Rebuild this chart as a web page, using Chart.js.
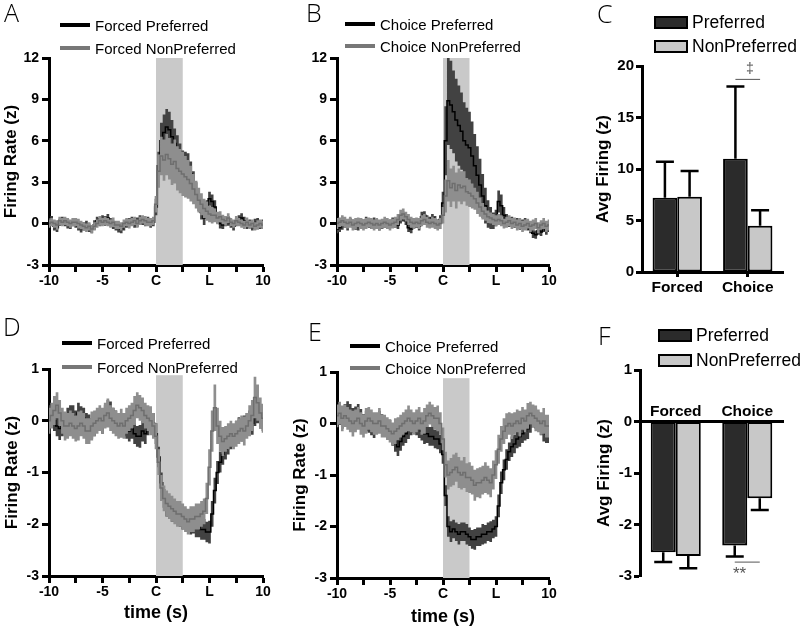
<!DOCTYPE html>
<html>
<head>
<meta charset="utf-8">
<script src="https://cdn.jsdelivr.net/npm/chart.js@4.4.0/dist/chart.umd.min.js"></script>
<style>
    body { margin: 0; background: #fff; }
    #figure { position: relative; width: 800px; height: 628px; overflow: hidden; font-family: 'Liberation Sans', Arial, sans-serif; color: #000; }
    canvas { position: absolute; }
    .panel-letter { position: absolute; font-family: 'Open Sans', sans-serif; font-weight: 300; font-size: 25px; line-height: 25px; }
    .legend-item { position: absolute; height: 20px; display: flex; align-items: center; font-size: 15px; white-space: nowrap; }
    .legend-line { width: 30px; height: 4px; margin-right: 5px; }
    .legend-box { box-sizing: border-box; width: 34px; height: 13px; border: 2px solid #000; margin-right: 4px; }
    .bar-legend { font-size: 17.5px; }
    .sig { position: absolute; color: #555; line-height: 1; }
</style>
</head>
<body>
<div id="figure">
    <canvas id="chartA" width="280" height="310" style="left:0px;top:0px"></canvas>
    <canvas id="chartB" width="290" height="310" style="left:280px;top:0px"></canvas>
    <canvas id="chartC" width="230" height="310" style="left:570px;top:0px"></canvas>
    <canvas id="chartD" width="280" height="318" style="left:0px;top:310px"></canvas>
    <canvas id="chartE" width="290" height="318" style="left:280px;top:310px"></canvas>
    <canvas id="chartF" width="230" height="318" style="left:570px;top:310px"></canvas>

    <div class="panel-letter" style="left:4px;top:0px">A</div>
    <div class="panel-letter" style="left:306px;top:0px">B</div>
    <div class="panel-letter" style="left:597px;top:1px">C</div>
    <div class="panel-letter" style="left:3px;top:314px">D</div>
    <div class="panel-letter" style="left:308px;top:319px">E</div>
    <div class="panel-letter" style="left:598px;top:323px">F</div>

    <div class="legend-item" style="left:60px;top:15px"><span class="legend-line" style="background:#000"></span>Forced Preferred</div>
    <div class="legend-item" style="left:60px;top:38px"><span class="legend-line" style="background:#777"></span>Forced NonPreferred</div>
    <div class="legend-item" style="left:345px;top:14px"><span class="legend-line" style="background:#000"></span>Choice Preferred</div>
    <div class="legend-item" style="left:345px;top:36px"><span class="legend-line" style="background:#777"></span>Choice NonPreferred</div>
    <div class="legend-item" style="left:62px;top:333px"><span class="legend-line" style="background:#000"></span>Forced Preferred</div>
    <div class="legend-item" style="left:62px;top:357px"><span class="legend-line" style="background:#777"></span>Forced NonPreferred</div>
    <div class="legend-item" style="left:350px;top:336px"><span class="legend-line" style="background:#000"></span>Choice Preferred</div>
    <div class="legend-item" style="left:350px;top:358px"><span class="legend-line" style="background:#777"></span>Choice NonPreferred</div>

    <div class="legend-item bar-legend" style="left:654px;top:12px"><span class="legend-box" style="background:#2b2b2b"></span>Preferred</div>
    <div class="legend-item bar-legend" style="left:654px;top:36px"><span class="legend-box" style="background:#c8c8c8"></span>NonPreferred</div>
    <div class="legend-item bar-legend" style="left:658px;top:325px"><span class="legend-box" style="background:#2b2b2b"></span>Preferred</div>
    <div class="legend-item bar-legend" style="left:658px;top:350px"><span class="legend-box" style="background:#c8c8c8"></span>NonPreferred</div>

    <div class="sig" style="left:746px;top:61px;font-size:14px">&Dagger;</div>
    <div class="sig" style="left:733px;top:565px;font-size:17px">**</div>
</div>

<script>
// Time axis of the traces: seconds around the choice (C), lever at L
const timeStart = -10;
const timeStep = 0.25;
const xTickValues = [-10, -5, 0, 5, 10];
const xTickNames = ['-10', '-5', 'C', 'L', '10'];
const cueWindow = [0, 2.5];

// Panel A - Forced trials, excited cells (mean and SEM, z)
const aPrefMean = [
    0.1, 0.2, -0.2, -0.3, 0.1, 0.2, 0.1, 0.0, -0.1, 0.1,
    0.0, -0.2, -0.3, -0.2, -0.1, -0.3, -0.4, -0.1, 0.2, 0.1,
    0.3, 0.2, 0.4, 0.1, -0.1, -0.2, -0.3, -0.4, -0.2, 0.0,
    0.1, 0.2, 0.0, 0.1, 0.3, 0.2, 0.1, 0.2, 0.0, 0.1,
    1.2, 4.2, 6.0, 6.6, 7.0, 6.8, 6.3, 5.8, 5.3, 4.8,
    4.3, 4.2, 4.1, 3.6, 3.0, 2.3, 1.5, 0.8, 0.4, 1.2,
    1.8, 1.6, 1.2, 0.4, 0.0, -0.1, 0.1, 0.2, 0.0, -0.2,
    0.1, 0.3, 0.4, 0.2, -0.1, 0.0, -0.2, 0.0, 0.1, -0.1,
    0.0];
const aPrefSem = [
    0.3, 0.35, 0.3, 0.3, 0.25, 0.3, 0.3, 0.35, 0.3, 0.3,
    0.3, 0.3, 0.35, 0.3, 0.3, 0.3, 0.3, 0.35, 0.3, 0.3,
    0.3, 0.35, 0.3, 0.3, 0.3, 0.3, 0.35, 0.3, 0.3, 0.3,
    0.3, 0.3, 0.3, 0.35, 0.3, 0.3, 0.3, 0.3, 0.3, 0.3,
    0.6, 1.0, 1.3, 1.3, 1.3, 1.3, 1.2, 1.1, 1.1, 1.0,
    1.0, 1.0, 1.0, 0.9, 0.8, 0.7, 0.6, 0.5, 0.5, 0.5,
    0.5, 0.5, 0.5, 0.4, 0.35, 0.3, 0.3, 0.35, 0.3, 0.3,
    0.3, 0.3, 0.35, 0.3, 0.3, 0.3, 0.3, 0.35, 0.3, 0.3,
    0.3];
const aNonMean = [
    0.0, 0.1, 0.0, -0.1, 0.2, 0.1, 0.2, 0.1, 0.0, 0.1,
    0.1, 0.0, -0.1, -0.2, -0.3, -0.2, -0.4, -0.2, 0.0, 0.2,
    0.1, 0.2, 0.1, 0.0, 0.1, -0.1, -0.1, -0.2, 0.0, 0.1,
    0.0, 0.1, 0.2, 0.0, 0.2, 0.3, 0.2, 0.1, 0.1, 0.2,
    1.4, 3.8, 4.9, 4.6, 5.0, 4.7, 4.3, 4.5, 4.0, 3.8,
    3.6, 3.4, 3.2, 2.9, 2.5, 2.1, 1.7, 1.4, 1.1, 0.9,
    0.7, 0.6, 0.6, 0.4, 0.5, 0.3, 0.2, 0.4, 0.1, 0.0,
    0.2, 0.1, 0.0, -0.1, 0.1, -0.1, 0.0, -0.2, -0.1, 0.0,
    -0.1];
const aNonSem = [
    0.3, 0.3, 0.3, 0.35, 0.3, 0.3, 0.3, 0.3, 0.3, 0.3,
    0.3, 0.35, 0.3, 0.3, 0.3, 0.3, 0.3, 0.3, 0.3, 0.35,
    0.3, 0.3, 0.3, 0.3, 0.35, 0.3, 0.3, 0.3, 0.3, 0.3,
    0.35, 0.3, 0.3, 0.3, 0.3, 0.3, 0.35, 0.3, 0.3, 0.3,
    0.6, 1.2, 1.4, 1.5, 1.5, 1.5, 1.5, 1.6, 1.6, 1.6,
    1.6, 1.5, 1.4, 1.3, 1.1, 1.0, 0.9, 0.8, 0.7, 0.7,
    0.6, 0.6, 0.5, 0.45, 0.4, 0.35, 0.35, 0.35, 0.3, 0.3,
    0.35, 0.3, 0.3, 0.3, 0.35, 0.3, 0.3, 0.3, 0.35, 0.3,
    0.3];

// Panel B - Choice trials, excited cells
const bPrefMean = [
    -0.4, -0.3, -0.1, 0.0, -0.2, 0.1, 0.0, -0.1, -0.2, 0.1,
    0.0, 0.2, 0.0, -0.1, 0.1, 0.0, -0.2, -0.1, 0.0, -0.1,
    0.0, 0.1, 0.0, -0.1, 0.3, 0.5, 0.2, -0.3, -0.4, -0.1,
    0.0, -0.2, 0.5, 0.6, 0.3, 0.2, 0.4, 0.2, 0.0, 0.3,
    1.5, 6.0, 8.9, 8.6, 8.1, 7.5, 7.1, 6.7, 6.0, 5.7,
    5.5, 4.9, 4.2, 3.5, 2.8, 2.0, 1.3, 0.7, 0.4, 0.2,
    0.4, 1.6, 1.3, 0.6, 0.3, 0.1, 0.2, 0.0, 0.1, -0.1,
    0.0, 0.1, -0.2, -0.4, -0.7, -0.8, -0.5, -0.6, -0.3, -0.5,
    -0.3];
const bPrefSem = [
    0.3, 0.3, 0.35, 0.3, 0.3, 0.3, 0.3, 0.35, 0.3, 0.3,
    0.3, 0.3, 0.3, 0.3, 0.35, 0.3, 0.3, 0.3, 0.3, 0.3,
    0.3, 0.35, 0.3, 0.3, 0.3, 0.35, 0.3, 0.3, 0.3, 0.3,
    0.3, 0.3, 0.35, 0.3, 0.3, 0.3, 0.3, 0.35, 0.3, 0.3,
    0.8, 2.5, 3.2, 3.2, 3.0, 3.0, 2.9, 2.8, 2.8, 2.7,
    2.6, 2.5, 2.3, 2.1, 1.9, 1.6, 1.3, 1.0, 0.8, 0.6,
    0.6, 0.8, 0.8, 0.6, 0.4, 0.35, 0.3, 0.3, 0.3, 0.35,
    0.3, 0.3, 0.3, 0.3, 0.35, 0.3, 0.3, 0.3, 0.3, 0.3,
    0.3];
const bNonMean = [
    0.0, 0.1, 0.2, 0.1, 0.0, 0.1, -0.1, 0.0, 0.1, 0.0,
    -0.1, 0.0, 0.1, 0.0, -0.1, 0.0, -0.1, 0.0, 0.1, 0.0,
    -0.1, 0.0, 0.1, 0.3, 0.6, 0.7, 0.5, 0.3, 0.1, 0.0,
    0.1, 0.0, 0.2, 0.3, 0.1, 0.0, 0.1, 0.0, -0.1, 0.0,
    0.6, 2.0, 3.1, 2.6, 2.9, 2.4, 2.8, 2.6, 2.7, 2.3,
    2.2, 2.0, 1.8, 1.5, 1.2, 0.9, 0.7, 0.5, 0.4, 0.3,
    0.2, 0.3, 0.2, 0.0, 0.1, 0.2, 0.0, 0.1, -0.1, 0.0,
    -0.2, -0.1, 0.0, -0.2, -0.1, 0.0, -0.3, -0.1, 0.0, -0.2,
    -0.1];
const bNonSem = [
    0.4, 0.35, 0.4, 0.4, 0.35, 0.4, 0.4, 0.4, 0.35, 0.4,
    0.4, 0.4, 0.35, 0.4, 0.4, 0.4, 0.4, 0.35, 0.4, 0.4,
    0.4, 0.35, 0.4, 0.4, 0.4, 0.4, 0.35, 0.4, 0.4, 0.4,
    0.35, 0.4, 0.4, 0.4, 0.4, 0.35, 0.4, 0.4, 0.4, 0.4,
    0.6, 1.2, 1.5, 1.4, 1.3, 1.3, 1.2, 1.2, 1.1, 1.0,
    1.0, 0.9, 0.8, 0.8, 0.7, 0.6, 0.5, 0.45, 0.4, 0.4,
    0.4, 0.4, 0.4, 0.35, 0.4, 0.4, 0.4, 0.35, 0.4, 0.4,
    0.4, 0.4, 0.35, 0.4, 0.4, 0.4, 0.4, 0.35, 0.4, 0.4,
    0.4];

// Panel D - Forced trials, inhibited cells
const dPrefMean = [
    0.1, 0.05, 0.0, -0.1, -0.15, -0.1, -0.05, 0.05, 0.1, 0.1,
    0.0, 0.15, 0.1, 0.05, -0.05, -0.1, -0.15, -0.1, 0.0, 0.05,
    -0.05, 0.1, 0.2, 0.15, 0.05, 0.0, -0.05, -0.1, -0.1, -0.15,
    -0.2, -0.15, -0.25, -0.3, -0.3, -0.2, -0.25, -0.1, 0.0, -0.05,
    -0.25, -0.7, -1.2, -1.5, -1.65, -1.7, -1.75, -1.75, -1.8, -1.85,
    -1.9, -1.9, -1.95, -2.0, -2.0, -2.05, -2.05, -2.1, -2.1, -2.15,
    -2.15, -1.8, -1.35, -1.0, -0.8, -0.65, -0.55, -0.45, -0.35, -0.3,
    -0.2, -0.15, -0.2, -0.1, -0.05, 0.0, -0.05, 0.1, 0.15, 0.05,
    0.0];
const dPrefSem = [
    0.2, 0.18, 0.2, 0.2, 0.22, 0.2, 0.18, 0.2, 0.2, 0.2,
    0.2, 0.2, 0.18, 0.2, 0.2, 0.22, 0.2, 0.2, 0.2, 0.18,
    0.2, 0.2, 0.2, 0.22, 0.2, 0.2, 0.18, 0.2, 0.2, 0.2,
    0.2, 0.2, 0.2, 0.2, 0.22, 0.2, 0.2, 0.18, 0.2, 0.2,
    0.2, 0.2, 0.2, 0.18, 0.2, 0.2, 0.2, 0.2, 0.18, 0.2,
    0.2, 0.2, 0.2, 0.2, 0.18, 0.2, 0.2, 0.2, 0.2, 0.2,
    0.22, 0.25, 0.25, 0.22, 0.2, 0.2, 0.2, 0.2, 0.2, 0.2,
    0.2, 0.22, 0.2, 0.2, 0.2, 0.2, 0.22, 0.2, 0.2, 0.2,
    0.2];
const dNonMean = [
    0.0, 0.1, 0.2, 0.3, 0.15, 0.0, -0.1, -0.1, -0.05, -0.1,
    -0.15, -0.1, -0.05, -0.1, -0.2, -0.2, -0.1, -0.05, 0.0, 0.05,
    0.0, 0.1, 0.15, 0.05, 0.0, -0.05, -0.1, -0.05, -0.1, 0.0,
    0.05, 0.1, 0.2, 0.3, 0.25, 0.2, 0.1, 0.05, 0.0, -0.1,
    -0.3, -0.8, -1.3, -1.5, -1.6, -1.65, -1.7, -1.75, -1.8, -1.8,
    -1.85, -1.9, -1.95, -1.9, -1.9, -1.85, -1.85, -1.8, -1.75, -1.5,
    -0.9, -0.2, 0.25, -0.1, -0.3, -0.4, -0.35, -0.3, -0.25, -0.3,
    -0.25, -0.2, -0.15, -0.2, -0.1, 0.0, 0.1, 0.45, 0.35, 0.15,
    0.05];
const dNonSem = [
    0.25, 0.25, 0.28, 0.25, 0.25, 0.25, 0.28, 0.25, 0.25, 0.25,
    0.25, 0.28, 0.25, 0.25, 0.25, 0.25, 0.28, 0.25, 0.25, 0.25,
    0.25, 0.25, 0.28, 0.25, 0.25, 0.25, 0.25, 0.28, 0.25, 0.25,
    0.25, 0.25, 0.28, 0.25, 0.25, 0.25, 0.25, 0.25, 0.28, 0.25,
    0.25, 0.25, 0.25, 0.25, 0.25, 0.25, 0.25, 0.25, 0.25, 0.25,
    0.25, 0.25, 0.25, 0.25, 0.25, 0.25, 0.25, 0.25, 0.25, 0.3,
    0.35, 0.4, 0.45, 0.35, 0.3, 0.28, 0.25, 0.25, 0.25, 0.25,
    0.25, 0.25, 0.25, 0.28, 0.25, 0.3, 0.3, 0.4, 0.35, 0.3,
    0.28];

// Panel E - Choice trials, inhibited cells
const ePrefMean = [
    0.1, 0.15, 0.1, 0.2, 0.25, 0.2, 0.1, 0.15, 0.2, 0.1,
    0.0, 0.05, 0.0, -0.05, -0.1, 0.0, 0.05, 0.0, -0.05, -0.1,
    -0.1, -0.25, -0.35, -0.45, -0.35, -0.25, -0.2, -0.1, -0.05, 0.0,
    -0.05, -0.1, -0.15, -0.2, -0.2, -0.25, -0.25, -0.3, -0.3, -0.4,
    -0.6, -1.4, -2.0, -2.1, -2.05, -2.1, -2.15, -2.1, -2.1, -2.15,
    -2.2, -2.25, -2.25, -2.2, -2.2, -2.15, -2.15, -2.1, -2.1, -2.05,
    -2.0, -1.6, -1.15, -0.9, -0.7, -0.55, -0.45, -0.4, -0.3, -0.25,
    -0.2, -0.15, -0.1, 0.0, 0.1, 0.1, 0.05, -0.05, -0.15, -0.2,
    -0.2];
const ePrefSem = [
    0.18, 0.18, 0.2, 0.18, 0.18, 0.18, 0.2, 0.18, 0.18, 0.18,
    0.18, 0.2, 0.18, 0.18, 0.18, 0.18, 0.2, 0.18, 0.18, 0.18,
    0.18, 0.18, 0.2, 0.18, 0.18, 0.18, 0.18, 0.2, 0.18, 0.18,
    0.18, 0.18, 0.18, 0.2, 0.18, 0.18, 0.18, 0.18, 0.2, 0.18,
    0.18, 0.2, 0.2, 0.2, 0.18, 0.18, 0.2, 0.18, 0.18, 0.2,
    0.18, 0.18, 0.2, 0.18, 0.18, 0.2, 0.18, 0.18, 0.2, 0.18,
    0.2, 0.22, 0.22, 0.2, 0.2, 0.18, 0.2, 0.18, 0.18, 0.2,
    0.18, 0.18, 0.2, 0.18, 0.18, 0.2, 0.18, 0.18, 0.2, 0.18,
    0.18];
const eNonMean = [
    0.15, 0.2, 0.1, 0.15, 0.1, 0.05, 0.0, 0.05, 0.1, 0.0,
    -0.05, 0.05, 0.1, 0.05, 0.0, 0.0, 0.05, -0.05, -0.05, -0.1,
    -0.15, -0.2, -0.15, -0.1, -0.05, 0.0, 0.05, 0.1, 0.05, 0.0,
    0.05, 0.1, 0.0, 0.05, 0.15, 0.2, 0.15, 0.1, 0.1, 0.0,
    -0.3, -0.8, -1.0, -0.95, -0.9, -0.85, -0.95, -1.0, -0.95, -1.05,
    -1.05, -1.1, -1.2, -1.15, -1.15, -1.1, -1.05, -1.1, -1.15, -1.0,
    -0.8, -0.5, -0.3, -0.15, -0.05, 0.0, -0.05, 0.0, 0.05, 0.0,
    0.1, 0.05, 0.15, 0.2, 0.15, 0.1, 0.05, 0.0, 0.05, -0.05,
    -0.05];
const eNonSem = [
    0.22, 0.22, 0.25, 0.22, 0.22, 0.22, 0.25, 0.22, 0.22, 0.22,
    0.22, 0.25, 0.22, 0.22, 0.22, 0.22, 0.25, 0.22, 0.22, 0.22,
    0.22, 0.22, 0.25, 0.22, 0.22, 0.22, 0.22, 0.25, 0.22, 0.22,
    0.22, 0.22, 0.22, 0.25, 0.22, 0.22, 0.22, 0.22, 0.25, 0.22,
    0.22, 0.25, 0.28, 0.28, 0.3, 0.28, 0.3, 0.28, 0.3, 0.28,
    0.3, 0.28, 0.3, 0.28, 0.3, 0.28, 0.3, 0.28, 0.28, 0.28,
    0.28, 0.28, 0.25, 0.25, 0.25, 0.22, 0.25, 0.22, 0.22, 0.25,
    0.22, 0.22, 0.25, 0.22, 0.22, 0.25, 0.22, 0.22, 0.25, 0.22,
    0.22];

// Panels C and F - average firing per trial type (mean and SEM)
const barGroups = ['Forced', 'Choice'];
const cPrefMean = [7.2, 11.0];
const cPrefErr = [3.5, 7.0];
const cNonMean = [7.3, 4.5];
const cNonErr = [2.5, 1.5];
const fPrefMean = [-2.54, -2.41];
const fPrefErr = [0.19, 0.21];
const fNonMean = [-2.61, -1.49];
const fNonErr = [0.24, 0.23];

const figFont = "'Liberation Sans', Arial, sans-serif";
const tickFont = { family: figFont, size: 14, weight: 'bold' };
const titleFont = { family: figFont, size: 17, weight: 'bold' };

// Grey shading for the cue window
const cueBandPlugin = {
    id: 'cueBand',
    beforeDatasetsDraw(chart, args, opts) {
        const { ctx, chartArea, scales } = chart;
        const x0 = scales.x.getPixelForValue(cueWindow[0]);
        const x1 = scales.x.getPixelForValue(cueWindow[1]);
        const yTop = scales.y.getPixelForValue(opts.top);
        ctx.save();
        ctx.fillStyle = '#c9c9c9';
        ctx.fillRect(x0, yTop, x1 - x0, chartArea.bottom - yTop);
        ctx.restore();
    }
};

// Error bars and significance line for the bar panels
const errorBarPlugin = {
    id: 'errorBars',
    afterDatasetsDraw(chart, args, opts) {
        const { ctx, scales } = chart;
        ctx.save();
        ctx.strokeStyle = '#000';
        ctx.lineWidth = 2.5;
        chart.data.datasets.forEach((ds, di) => {
            chart.getDatasetMeta(di).data.forEach((bar, i) => {
                const v = ds.data[i];
                const yEnd = scales.y.getPixelForValue(v + Math.sign(v) * ds.errors[i]);
                ctx.beginPath();
                ctx.moveTo(bar.x, bar.y);
                ctx.lineTo(bar.x, yEnd);
                ctx.moveTo(bar.x - 9, yEnd);
                ctx.lineTo(bar.x + 9, yEnd);
                ctx.stroke();
            });
        });
        // comparison line between the two Choice bars
        const a = chart.getDatasetMeta(0).data[opts.index];
        const b = chart.getDatasetMeta(1).data[opts.index];
        const ySig = scales.y.getPixelForValue(opts.value);
        ctx.strokeStyle = '#555';
        ctx.lineWidth = 1;
        ctx.beginPath();
        ctx.moveTo(a.x, ySig);
        ctx.lineTo(b.x, ySig);
        ctx.stroke();
        ctx.restore();
    }
};

function toPoints(values) {
    return values.map((v, i) => ({ x: timeStart + i * timeStep, y: v }));
}

function bandEdge(mean, sem, sign) {
    return toPoints(mean.map((m, i) => m + sign * sem[i]));
}

function traceChart(id, p) {
    const common = { pointRadius: 0, stepped: 'middle', borderWidth: 0 };
    new Chart(document.getElementById(id), {
        type: 'line',
        data: {
            datasets: [
                { ...common, data: bandEdge(p.prefMean, p.prefSem, 1), fill: 1, backgroundColor: '#424242', order: 5 },
                { ...common, data: bandEdge(p.prefMean, p.prefSem, -1), fill: false, order: 5 },
                { ...common, data: toPoints(p.prefMean), borderColor: '#000', borderWidth: 1.5, fill: false, order: 4 },
                { ...common, data: bandEdge(p.nonMean, p.nonSem, 1), fill: 4, backgroundColor: '#8e8e8e', order: 3 },
                { ...common, data: bandEdge(p.nonMean, p.nonSem, -1), fill: false, order: 3 },
                { ...common, data: toPoints(p.nonMean), borderColor: '#6e6e6e', borderWidth: 1.5, fill: false, order: 2 }
            ]
        },
        options: {
            responsive: false,
            animation: false,
            devicePixelRatio: 1,
            layout: { padding: { left: 0, top: p.top, right: p.w - p.right, bottom: 0 } },
            plugins: {
                legend: { display: false },
                tooltip: { enabled: false },
                cueBand: { top: p.cueTop }
            },
            scales: {
                x: {
                    type: 'linear', min: -10, max: 10, z: 1,
                    afterFit: s => { s.height = p.h - p.bottom; },
                    ticks: {
                        stepSize: 2.5, autoSkip: false, maxRotation: 0, color: '#000', font: tickFont, padding: 1,
                        callback: v => { const k = xTickValues.indexOf(v); return k >= 0 ? xTickNames[k] : ''; }
                    },
                    grid: { drawOnChartArea: false, color: '#000', tickLength: 7, tickWidth: 3 },
                    border: { color: '#000', width: 3 },
                    title: { display: !!p.xTitle, text: p.xTitle, color: '#000', font: { ...titleFont, size: 18 }, padding: { top: 0, bottom: p.xTitlePad } }
                },
                y: {
                    min: p.yMin, max: p.yMax, z: 1,
                    afterFit: s => { s.width = p.left; },
                    ticks: { stepSize: p.yStep, color: '#000', font: tickFont, padding: 3 },
                    grid: { drawOnChartArea: false, color: '#000', tickLength: 7, tickWidth: 3 },
                    border: { color: '#000', width: 3 },
                    title: { display: !!p.yTitle, text: p.yTitle, color: '#000', font: titleFont, padding: { top: p.yTitlePad, bottom: 0 } }
                }
            }
        },
        plugins: [cueBandPlugin]
    });
}

function barChart(id, p) {
    const barStyle = { borderColor: '#000', borderWidth: 2, borderSkipped: false, categoryPercentage: 0.7, barPercentage: 1.0 };
    new Chart(document.getElementById(id), {
        type: 'bar',
        data: {
            labels: barGroups,
            datasets: [
                { ...barStyle, label: 'Preferred', data: p.prefMean, errors: p.prefErr, backgroundColor: '#2b2b2b' },
                { ...barStyle, label: 'NonPreferred', data: p.nonMean, errors: p.nonErr, backgroundColor: '#c8c8c8' }
            ]
        },
        options: {
            responsive: false,
            animation: false,
            devicePixelRatio: 1,
            layout: { padding: { left: 0, top: p.top, right: p.w - p.right, bottom: p.padBottom } },
            plugins: {
                legend: { display: false },
                tooltip: { enabled: false },
                errorBars: { index: 1, value: p.sigValue }
            },
            scales: {
                x: {
                    position: p.xPosition, z: 1,
                    afterFit: s => { if (p.xHeight) s.height = p.xHeight; },
                    ticks: { color: '#000', font: { ...tickFont, size: 15.5 }, padding: p.xPad, mirror: p.mirror },
                    grid: { offset: false, drawOnChartArea: false, drawTicks: p.xTicks, color: '#000', tickLength: 5, tickWidth: 3 },
                    border: { color: '#000', width: 3 }
                },
                y: {
                    min: p.yMin, max: p.yMax, z: 1,
                    afterFit: s => { s.width = p.left; },
                    ticks: { stepSize: p.yStep, color: '#000', font: { ...tickFont, size: 15 }, padding: 2 },
                    grid: { drawOnChartArea: false, color: '#000', tickLength: 6, tickWidth: 3 },
                    border: { color: '#000', width: 3 },
                    title: { display: true, text: 'Avg Firing (z)', color: '#000', font: titleFont, padding: { top: p.yTitlePad, bottom: 0 } }
                }
            }
        },
        plugins: [errorBarPlugin]
    });
}

traceChart('chartA', {
    prefMean: aPrefMean, prefSem: aPrefSem, nonMean: aNonMean, nonSem: aNonSem,
    yMin: -3, yMax: 12, yStep: 3, cueTop: 12,
    w: 280, h: 310, left: 49, right: 263, top: 58, bottom: 265,
    yTitle: 'Firing Rate (z)', yTitlePad: 1, xTitle: null, xTitlePad: 0
});
traceChart('chartB', {
    prefMean: bPrefMean, prefSem: bPrefSem, nonMean: bNonMean, nonSem: bNonSem,
    yMin: -3, yMax: 12, yStep: 3, cueTop: 12,
    w: 290, h: 310, left: 57, right: 269, top: 58, bottom: 265,
    yTitle: null, yTitlePad: 0, xTitle: null, xTitlePad: 0
});
traceChart('chartD', {
    prefMean: dPrefMean, prefSem: dPrefSem, nonMean: dNonMean, nonSem: dNonSem,
    yMin: -3, yMax: 1, yStep: 1, cueTop: 0.88,
    w: 280, h: 318, left: 49, right: 263, top: 59, bottom: 266,
    yTitle: 'Firing Rate (z)', yTitlePad: 2, xTitle: 'time (s)', xTitlePad: 4
});
traceChart('chartE', {
    prefMean: ePrefMean, prefSem: ePrefSem, nonMean: eNonMean, nonSem: eNonSem,
    yMin: -3, yMax: 1, yStep: 1, cueTop: 0.88,
    w: 290, h: 318, left: 57, right: 269, top: 62, bottom: 268,
    yTitle: 'Firing Rate (z)', yTitlePad: 10, xTitle: 'time (s)', xTitlePad: 0
});

barChart('chartC', {
    prefMean: cPrefMean, prefErr: cPrefErr, nonMean: cNonMean, nonErr: cNonErr,
    yMin: 0, yMax: 20, yStep: 5, sigValue: 18.7,
    w: 230, left: 72, right: 213, top: 66, padBottom: 0, xHeight: 38,
    xPosition: 'bottom', xPad: 1, mirror: false, xTicks: true, yTitlePad: 23
});
barChart('chartF', {
    prefMean: fPrefMean, prefErr: fPrefErr, nonMean: fNonMean, nonErr: fNonErr,
    yMin: -3, yMax: 1, yStep: 1, sigValue: -2.73,
    w: 230, left: 70, right: 213, top: 60, padBottom: 52, xHeight: 0,
    xPosition: { y: 0 }, xPad: 0, mirror: true, xTicks: false, yTitlePad: 24
});
</script>
</body>
</html>
